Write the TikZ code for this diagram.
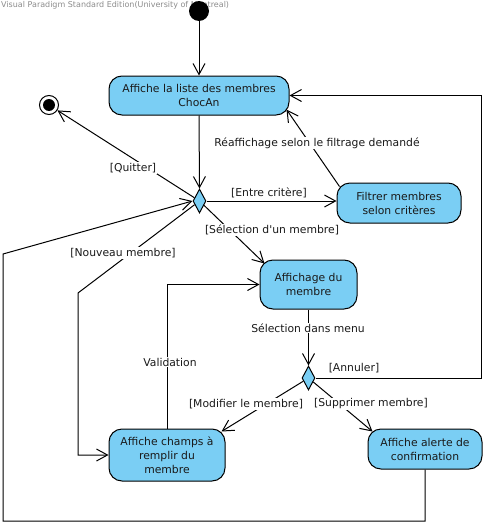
\documentclass[tikz,border=0pt]{standalone}
\usepackage{fontspec}
\setmainfont{DejaVu Sans}
\usetikzlibrary{arrows.meta,shapes.geometric}
\definecolor{actfill}{HTML}{7ACEF4}
\definecolor{credit}{HTML}{8C8C8C}
\definecolor{ink}{HTML}{1A1A1A}
\begin{document}
\begin{tikzpicture}[x=1pt,y=-1pt,
  every node/.style={font=\fontsize{10.8}{14}\selectfont},
  action/.style={draw=black, fill=actfill, rounded corners=13pt, line width=1pt,
    align=center, inner sep=0pt, text=ink},
  decision/.style={diamond, draw=black, fill=actfill, line width=1pt,
    minimum width=13pt, minimum height=24pt, inner sep=0pt},
  flow/.style={line width=1pt, -{Straight Barb[length=11pt,width=12pt,line width=1pt]}},
  guard/.style={fill=white, inner sep=1pt, text=ink},
  tag/.style={inner sep=1pt, text=ink}
]
\useasboundingbox (0,0) rectangle (485,525);

% edition stamp
\node[anchor=north west, inner sep=0pt, font=\fontsize{8}{9}\selectfont, text=credit]
  (stamp) at (1,1) {Visual Paradigm Standard Edition(University of Montreal)};

% start and end
\node[circle, fill=black, minimum size=20pt, inner sep=0pt] (init) at (199,11) {};
\node[circle, draw=black, fill=white, line width=1pt, minimum size=19pt, inner sep=0pt] (final) at (49,105) {};
\node[circle, fill=black, minimum size=12pt, inner sep=0pt] (finaldot) at (final) {};

% actions
\node[action, minimum width=180pt, minimum height=39pt] (act1) at (199,95.5) {Affiche la liste des membres\\ChocAn};
\node[action, minimum width=124pt, minimum height=40pt] (filtre) at (399,203) {Filtrer membres\\selon critères};
\node[action, minimum width=97pt, minimum height=49pt] (aff) at (308.5,284.5) {Affichage du\\membre};
\node[action, minimum width=116pt, minimum height=52pt] (champs) at (167,455) {Affiche champs à\\remplir du\\membre};
\node[action, minimum width=114pt, minimum height=40pt] (alerte) at (425,449) {Affiche alerte de\\confirmation};

% decisions
\node[decision] (dec1) at (199.5,201) {};
\node[decision] (dec2) at (308.5,378) {};

% bend points
\coordinate (nm) at (78,293);
\coordinate (lb) at (3,521);
\coordinate (lt) at (3,254);
\coordinate (an) at (481,378);

% transitions
\draw[flow] (init) -- (act1.north);
\draw[flow] (act1.south) -- (dec1.north);
\draw[flow] (dec1) -- (final);
\draw[flow] (dec1.east) -- (dec1.east -| filtre.west);
\draw[flow] ([shift={(3,4)}]filtre.north west) -- ([shift={(-3,-6)}]act1.south east);
\draw[flow] (dec1) -- ([shift={(5,4)}]aff.north west);
\draw[flow] (dec1) -- (nm) |- (champs.west);
\draw[flow] (alerte.south) |- (lb) -- (lt) -- (dec1.west);
\draw[flow] (champs.north) |- (aff.west);
\draw[flow] (aff.south) -- (dec2.north);
\draw[flow] (dec2.east) -- (an) |- (act1.east);
\draw[flow] (dec2) -- ([shift={(-4,3)}]champs.north east);
\draw[flow] (dec2) -- ([shift={(5,3)}]alerte.north west);

% guards and triggers
\node[guard] (gq) at (133,168) {[Quitter]};
\node[tag] (ge) at (269,193) {[Entre critère]};
\node[guard] (gr) at (317,143) {Réaffichage selon le filtrage demandé};
\node[guard] (gs) at (272,230) {[Sélection d\textquotesingle un membre]};
\node[guard] (gn) at (123,253) {[Nouveau membre]};
\node[guard] (gm) at (308,328) {Sélection dans menu};
\node[guard] (gv) at (170,362) {Validation};
\node[tag] (ga) at (354,368) {[Annuler]};
\node[guard] (gmod) at (246,404) {[Modifier le membre]};
\node[guard] (gsup) at (371,404) {[Supprimer membre]};
\end{tikzpicture}
\end{document}
